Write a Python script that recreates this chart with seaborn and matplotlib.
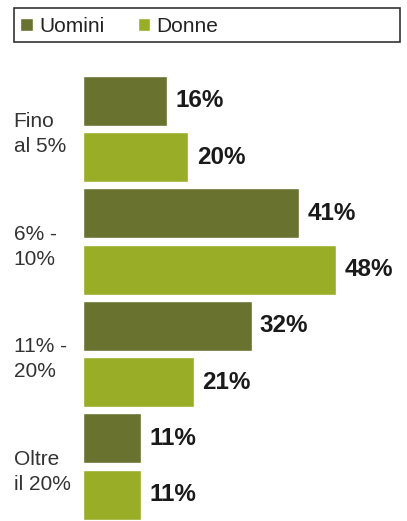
import matplotlib
matplotlib.use("Agg")
import matplotlib.pyplot as plt
import seaborn as sns
import pandas as pd
from matplotlib.patches import Rectangle

categories = ["Fino\nal 5%", "6% -\n10%", "11% -\n20%", "Oltre\nil 20%"]
series_names = ["Uomini", "Donne"]
uomini = [16, 41, 32, 11]
donne = [20, 48, 21, 11]
colors = {"Uomini": "#6a7230", "Donne": "#9aad27"}

df = pd.DataFrame({
    "cat": categories * 2,
    "val": uomini + donne,
    "sex": ["Uomini"] * 4 + ["Donne"] * 4,
})

sns.set_style("white")
plt.rcParams["font.family"] = ["Liberation Sans", "DejaVu Sans"]

W, H = 407, 521
fig = plt.figure(figsize=(W / 100, H / 100), dpi=100)
ax = fig.add_axes([83 / W, 0, 1 - 83 / W, 1 - 72.75 / H])

sns.barplot(data=df, y="cat", x="val", hue="sex", order=categories,
            hue_order=series_names, palette=colors, orient="h",
            width=1.0, gap=0.11, saturation=1, ax=ax, legend=True)

ax.set_xlim(0, 61.5)
ax.set_ylim(3.484, -0.5)
for c in ax.containers:
    ax.bar_label(c, fmt="%d%%", padding=6, fontsize=17.5, fontweight="bold",
                 color="#1a1a1a")

ax.set_xlabel("")
ax.set_ylabel("")
ax.set_xticks([])
ax.tick_params(axis="y", length=0, pad=50)
for lbl in ax.get_yticklabels():
    lbl.set_horizontalalignment("left")
    lbl.set_fontsize(15)
    lbl.set_color("#333333")
    lbl.set_linespacing(1.4)
sns.despine(ax=ax, left=True, bottom=True)

handles, labels = ax.get_legend_handles_labels()
ax.get_legend().remove()
fig.legend(handles, labels, loc="center left",
           bbox_to_anchor=(10 / W, 1 - 26 / H), ncol=2, frameon=False,
           fontsize=15, handlelength=0.6, handleheight=0.6,
           handletextpad=0.3, columnspacing=1.6, borderpad=0,
           labelcolor="#222222")
fig.patches.append(Rectangle((14 / W, 1 - 42 / H), (400 - 14) / W, 34 / H,
                             transform=fig.transFigure, fill=False,
                             edgecolor="#333333", linewidth=1.2))

fig.savefig("out.png", dpi=100, facecolor="white")
